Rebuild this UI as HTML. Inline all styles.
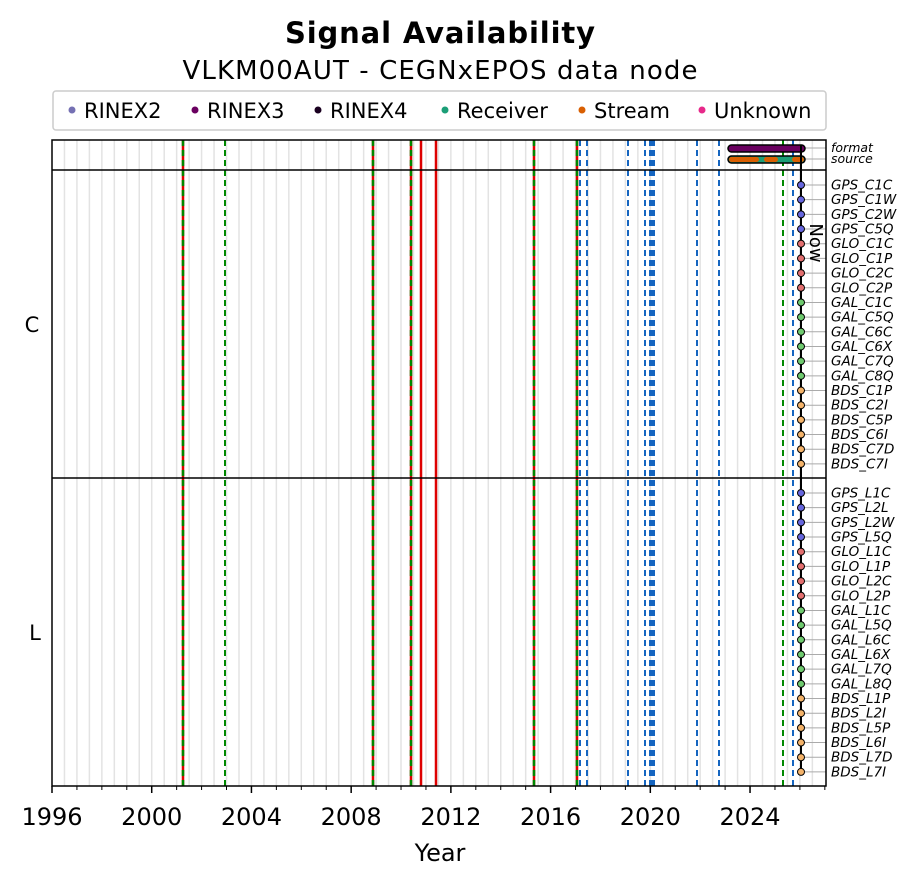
<!DOCTYPE html><html><head><meta charset="utf-8"><style>body{margin:0;background:#fff}svg{display:block;font-family:"DejaVu Sans","Liberation Sans",sans-serif}</style></head><body>
<svg id="s" width="918" height="885" xmlns="http://www.w3.org/2000/svg"></svg>
<script>
const s=document.getElementById('s');let h='';
const L=52,R=826,T=140,B=786;const X=y=>52+(y-1996)*24.93;
h+=`<text x="440" y="43" font-size="29" font-weight="bold" text-anchor="middle" textLength="310">Signal Availability</text>`;
h+=`<text x="440" y="79" font-size="26" text-anchor="middle" textLength="515">VLKM00AUT - CEGNxEPOS data node</text>`;
h+=`<rect x="53" y="91" width="773" height="39" rx="3" fill="#fff" stroke="#ccc" stroke-width="1.5"/>`;
[[72,'#7570b3','RINEX2'],[195,'#6a0060','RINEX3'],[318,'#1a0020','RINEX4'],[445,'#1b9e77','Receiver'],[582,'#d95f02','Stream'],[702,'#e7298a','Unknown']].forEach(([x,c,t])=>{h+=`<circle cx="${x}" cy="110" r="3.5" fill="${c}"/><text x="${x+12}" y="118" font-size="21">${t}</text>`});
for(let y=1996.5;y<2027;y+=0.5){const x=X(y);h+=`<line x1="${x}" x2="${x}" y1="${T}" y2="${B}" stroke="#e3e3e3" stroke-width="1.5"/>`}
const C=['GPS_C1C','GPS_C1W','GPS_C2W','GPS_C5Q','GLO_C1C','GLO_C1P','GLO_C2C','GLO_C2P','GAL_C1C','GAL_C5Q','GAL_C6C','GAL_C6X','GAL_C7Q','GAL_C8Q','BDS_C1P','BDS_C2I','BDS_C5P','BDS_C6I','BDS_C7D','BDS_C7I'];
const Ln=['GPS_L1C','GPS_L2L','GPS_L2W','GPS_L5Q','GLO_L1C','GLO_L1P','GLO_L2C','GLO_L2P','GAL_L1C','GAL_L5Q','GAL_L6C','GAL_L6X','GAL_L7Q','GAL_L8Q','BDS_L1P','BDS_L2I','BDS_L5P','BDS_L6I','BDS_L7D','BDS_L7I'];
const col=n=>n.startsWith('GPS')?'#6666dd':n.startsWith('GLO')?'#e36f6f':n.startsWith('GAL')?'#6fca6f':'#f4b36a';
const rows=[];C.forEach((n,i)=>rows.push([n,185+i*14.68]));Ln.forEach((n,i)=>rows.push([n,493+i*14.68]));
rows.concat([['format',148],['source',159]]).forEach(([n,y])=>{h+=`<line x1="801" x2="826" y1="${y}" y2="${y}" stroke="#aaa" stroke-width="1"/>`});
[183,373,411,534,577].forEach(x=>{h+=`<line x1="${x}" x2="${x}" y1="${T}" y2="${B}" stroke="#d00" stroke-width="2.5"/><line x1="${x}" x2="${x}" y1="${T}" y2="${B}" stroke="#080" stroke-width="2.5" stroke-dasharray="6,4"/>`});
[421,436].forEach(x=>{h+=`<line x1="${x}" x2="${x}" y1="${T}" y2="${B}" stroke="#d00" stroke-width="2.5"/>`});
[225,783].forEach(x=>{h+=`<line x1="${x}" x2="${x}" y1="${T}" y2="${B}" stroke="#080" stroke-width="2" stroke-dasharray="6,4"/>`});
[580,587,628,645,650,652,654,697,719,793].forEach(x=>{h+=`<line x1="${x}" x2="${x}" y1="${T}" y2="${B}" stroke="#1565c0" stroke-width="2" stroke-dasharray="6,4"/>`});
h+=`<rect x="728" y="145" width="77" height="7" rx="3.5" fill="#6a0060" stroke="#000" stroke-width="1.5"/>`;
h+=`<rect x="728" y="156" width="77" height="7" rx="3.5" fill="#1b9e77" stroke="#000" stroke-width="1.5"/>`;
h+=`<rect x="729" y="157" width="30" height="5" rx="2.5" fill="#d95f02"/><rect x="764" y="157" width="14" height="5" rx="2.5" fill="#d95f02"/><rect x="792" y="157" width="12" height="5" rx="2.5" fill="#d95f02"/>`;
h+=`<line x1="801" x2="801" y1="145" y2="775" stroke="#000" stroke-width="2"/>`;
h+=`<text transform="translate(810,243) rotate(90)" font-size="18" text-anchor="middle">Now</text>`;
rows.forEach(([n,y])=>{h+=`<circle cx="801" cy="${y}" r="3.5" fill="${col(n)}" stroke="#000" stroke-width="1"/><text x="831" y="${y+4.5}" font-size="13.5" font-style="italic">${n}</text>`});
h+=`<text x="831" y="152" font-size="12.5" font-style="italic">format</text><text x="831" y="163" font-size="12.5" font-style="italic">source</text>`;
h+=`<rect x="${L}" y="${T}" width="${R-L}" height="${B-T}" fill="none" stroke="#000" stroke-width="1.5"/>`;
h+=`<line x1="${L}" x2="${R}" y1="170" y2="170" stroke="#000" stroke-width="1.5"/><line x1="${L}" x2="${R}" y1="478" y2="478" stroke="#000" stroke-width="1.5"/>`;
h+=`<text x="32" y="332" font-size="21" text-anchor="middle">C</text><text x="35" y="640" font-size="21" text-anchor="middle">L</text>`;
for(let y=1996;y<=2027;y++){const x=X(y);const maj=(y%4==0);h+=`<line x1="${x}" x2="${x}" y1="${B}" y2="${B+(maj?7:4)}" stroke="#000" stroke-width="${maj?1.5:1}"/>`;if(maj)h+=`<text x="${x}" y="${B+39}" font-size="24" text-anchor="middle">${y}</text>`}
h+=`<text x="440" y="861" font-size="24" text-anchor="middle">Year</text>`;
s.innerHTML=h;
</script></body></html>
